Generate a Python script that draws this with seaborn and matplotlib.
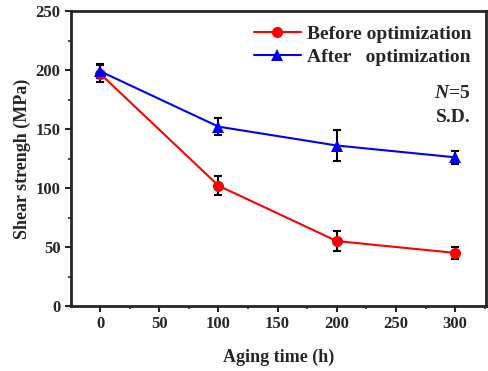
import numpy as np
import pandas as pd
import seaborn as sns
import matplotlib.pyplot as plt
from matplotlib.ticker import MultipleLocator

aging_time = [0, 100, 200, 300]
before_vals = [197, 102, 55, 45]
before_err = [7, 8, 8.5, 5]
after_vals = [199, 152, 136, 126]
after_err = [6, 7, 13, 5.5]
series_names = ["Before optimization", "After   optimization"]

sns.set_style("ticks")
plt.rcParams['font.family'] = ['Liberation Serif', 'DejaVu Serif']
plt.rcParams['font.weight'] = 'bold'
plt.rcParams['mathtext.fontset'] = 'custom'
plt.rcParams['mathtext.it'] = 'Liberation Serif:italic:bold'
plt.rcParams['mathtext.rm'] = 'Liberation Serif:bold'

df = pd.DataFrame({
    "time": aging_time * 2,
    "val": before_vals + after_vals,
    "err": before_err + after_err,
    "series": [series_names[0]] * 4 + [series_names[1]] * 4,
})

fig = plt.figure(figsize=(4.89, 3.71), dpi=100)
ax = fig.add_axes([71/489, 1 - 306/371, (486-71)/489, (306-11)/371])

palette = {series_names[0]: "#ff0000", series_names[1]: "#0000ff"}
markers = {series_names[0]: "o", series_names[1]: "^"}
for name in series_names:
    sub = df[df.series == name]
    ax.errorbar(sub.time, sub.val, yerr=sub.err, fmt="none", ecolor="black",
                elinewidth=1.5, capsize=3, capthick=1.5, zorder=2)
sns.lineplot(data=df, x="time", y="val", hue="series", style="series",
             palette=palette, markers=markers, dashes=False, markersize=8,
             markeredgewidth=0, linewidth=1.5, ax=ax, zorder=3)

ax.set_xlim(-24.5, 326)
ax.set_ylim(0, 250)
ax.xaxis.set_major_locator(MultipleLocator(50))
ax.xaxis.set_minor_locator(MultipleLocator(25))
ax.yaxis.set_major_locator(MultipleLocator(50))
ax.yaxis.set_minor_locator(MultipleLocator(25))
ax.tick_params(which="major", direction="out", length=4, width=1.5, labelsize=12)
ax.tick_params(which="minor", direction="out", length=2.5, width=1.2)
for lab in ax.get_xticklabels() + ax.get_yticklabels():
    lab.set_fontweight("bold")
for sp in ax.spines.values():
    sp.set_linewidth(2)
    sp.set_visible(True)

ax.set_xlabel("Aging time (h)", fontsize=13, fontweight="bold", labelpad=12)
ax.set_ylabel("Shear strengh (MPa)", fontsize=13, fontweight="bold", labelpad=3)

leg = ax.legend(loc="upper right", frameon=False, fontsize=14, handlelength=2.4,
                borderaxespad=0.0, borderpad=0.3, handletextpad=0.3, labelspacing=0.3,
                bbox_to_anchor=(0.978, 0.972))
for t in leg.get_texts():
    t.set_fontweight("bold")

ax.text(0.963, 0.722, r"$\mathit{N}$=5", transform=ax.transAxes, ha="right",
        va="center", fontsize=14, fontweight="bold")
ax.text(0.963, 0.64, "S.D.", transform=ax.transAxes, ha="right",
        va="center", fontsize=14, fontweight="bold")

fig.savefig("out.png", dpi=100)
